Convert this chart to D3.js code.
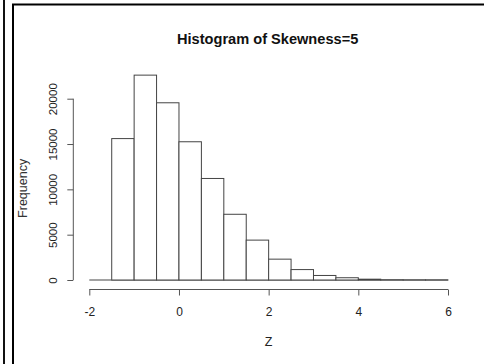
<!DOCTYPE html>
<html>
<head>
<meta charset="utf-8">
<script src="https://cdn.jsdelivr.net/npm/d3@7"></script>
<style>
  body { margin: 0; background: #fff; }
  svg { display: block; font-family: "Liberation Sans", Arial, sans-serif; }
</style>
</head>
<body>
<div class="chart"></div>
<script>
// Statics
var BIN_STARTS = [-2, -1.5, -1, -0.5, 0, 0.5, 1, 1.5, 2, 2.5, 3, 3.5, 4, 4.5, 5, 5.5];
var BIN_WIDTH = 0.5;
var COUNTS = [0, 15600, 22600, 19550, 15250, 11200, 7250, 4400, 2300, 1150, 500, 250, 90, 25, 8, 3];
var X_TICKS = [-2, 0, 2, 4, 6];
var Y_TICKS = [0, 5000, 10000, 15000, 20000];
var TITLE = "Histogram of Skewness=5";
// End statics

var W = 484, H = 364;
var plot = {left: 89.3, right: 448, bottom: 280};
var FONT = "Liberation Sans, Arial, sans-serif";

var svg = d3.select(".chart").append("svg")
    .attr("width", W)
    .attr("height", H);

// frame lines round the picture
svg.append("line").attr("x1", 4).attr("x2", 4).attr("y1", 0).attr("y2", H)
    .attr("stroke", "#111").attr("stroke-width", 2);
svg.append("line").attr("x1", 13).attr("x2", 13).attr("y1", 4).attr("y2", H)
    .attr("stroke", "#000").attr("stroke-width", 2);
svg.append("line").attr("x1", 12).attr("x2", W).attr("y1", 4.5).attr("y2", 4.5)
    .attr("stroke", "#000").attr("stroke-width", 2);

var x = d3.scaleLinear().domain([-2, 6]).range([plot.left, plot.right]);
var y = d3.scaleLinear().domain([0, 20000]).range([plot.bottom, plot.bottom - 181.3]);

var data = BIN_STARTS.map(function(d, i) { return {x0: d, x1: d + BIN_WIDTH, n: COUNTS[i]}; });

// baseline (empty bins draw as a flat line)
svg.append("line")
    .attr("x1", x(-2)).attr("x2", x(6))
    .attr("y1", y(0)).attr("y2", y(0))
    .attr("stroke", "#444");

// bars
svg.append("g").selectAll("rect")
    .data(data.filter(function(d) { return d.n > 0; }))
    .enter().append("rect")
    .attr("x", function(d) { return x(d.x0); })
    .attr("width", function(d) { return x(d.x1) - x(d.x0); })
    .attr("y", function(d) { return y(d.n); })
    .attr("height", function(d) { return y(0) - y(d.n); })
    .attr("fill", "#fff")
    .attr("stroke", "#444")
    .attr("stroke-width", 1);

// x axis, R style (offset below the bars)
var xAxis = d3.axisBottom(x).tickValues(X_TICKS).tickSize(6)
    .tickFormat(function(d) { return d < 0 ? "-" + Math.abs(d) : d; });
var gx = svg.append("g")
    .attr("transform", "translate(0," + 289.5 + ")")
    .call(xAxis)
    .attr("font-family", FONT)
    .attr("font-size", 12);
gx.select(".domain").attr("d", "M" + x(-2) + ",0H" + x(6)).attr("stroke", "#555");
gx.selectAll(".tick line").attr("stroke", "#555");
gx.selectAll(".tick text")
    .attr("y", 26.5).attr("dy", 0)
    .attr("fill", "#222");

// y axis
var yAxis = d3.axisLeft(y).tickValues(Y_TICKS).tickSize(6)
    .tickFormat(d3.format("d"));
var gy = svg.append("g")
    .attr("transform", "translate(" + 73.3 + ",0)")
    .call(yAxis)
    .attr("font-family", FONT)
    .attr("font-size", 11.5);
gy.select(".domain").attr("d", "M0," + y(0) + "V" + y(20000)).attr("stroke", "#555");
gy.selectAll(".tick line").attr("stroke", "#555");
gy.selectAll(".tick text")
    .attr("fill", "#222")
    .attr("x", 0).attr("dy", 0)
    .attr("text-anchor", "middle")
    .attr("transform", "translate(-16.5,0) rotate(-90)");

// labels
svg.append("text")
    .attr("x", (plot.left + plot.right) / 2 - 1)
    .attr("y", 43.5)
    .attr("text-anchor", "middle")
    .attr("font-size", 14.6)
    .attr("font-weight", "bold")
    .attr("fill", "#111")
    .text(TITLE);

svg.append("text")
    .attr("x", (plot.left + plot.right) / 2)
    .attr("y", 346)
    .attr("text-anchor", "middle")
    .attr("font-size", 12.5)
    .attr("fill", "#222")
    .text("Z");

svg.append("text")
    .attr("transform", "translate(27," + ((plot.bottom + y(20000)) / 2 - 1) + ") rotate(-90)")
    .attr("text-anchor", "middle")
    .attr("font-size", 12.5)
    .attr("fill", "#333")
    .text("Frequency");
</script>
</body>
</html>
